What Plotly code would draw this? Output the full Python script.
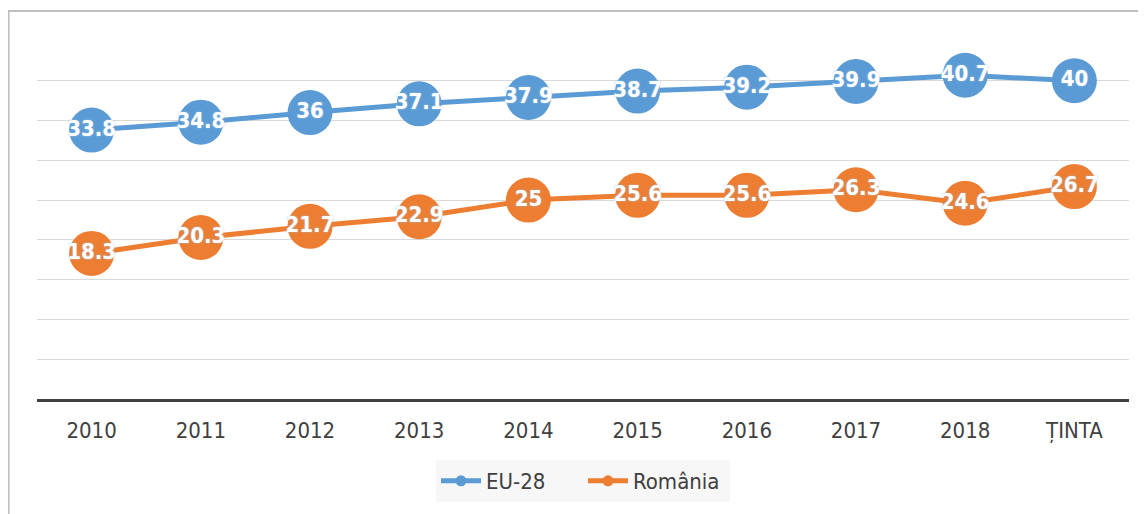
import plotly.graph_objects as go

years = ["2010", "2011", "2012", "2013", "2014", "2015", "2016", "2017", "2018", "ȚINTA"]
eu28 = [33.8, 34.8, 36, 37.1, 37.9, 38.7, 39.2, 39.9, 40.7, 40]
romania = [18.3, 20.3, 21.7, 22.9, 25, 25.6, 25.6, 26.3, 24.6, 26.7]

FONT = "DejaVu Sans Condensed, Open Sans, sans-serif"

fig = go.Figure()

for name, vals, color in [("EU-28", eu28, "#5B9BD5"), ("România", romania, "#ED7D31")]:
    fig.add_trace(go.Scatter(
        x=years,
        y=vals,
        mode="lines+markers+text",
        name=name,
        text=[f"{v:g}" for v in vals],
        textposition="middle center",
        textfont=dict(family=FONT, size=22, color="white", weight="bold",
                      shadow="0px 0px 2px #9dc3e6"),
        line=dict(color=color, width=5),
        marker=dict(color=color, size=45),
        cliponaxis=False,
        showlegend=False,
    ))
    # legend entry only (smaller marker, like the original)
    fig.add_trace(go.Scatter(
        x=[None], y=[None],
        mode="lines+markers",
        name=name,
        line=dict(color=color, width=5),
        marker=dict(color=color, size=11),
    ))

fig.update_layout(
    width=1146,
    height=514,
    margin=dict(l=29, r=25, t=33, b=123),
    paper_bgcolor="white",
    plot_bgcolor="white",
    font=dict(family=FONT, size=22, color="#404040"),
    showlegend=True,
    legend=dict(
        orientation="h",
        x=0.5, xanchor="center",
        y=-0.229, yanchor="middle",
        bgcolor="#f7f7f7",
        font=dict(size=22, color="#404040"),
        entrywidth=92,
        itemwidth=40,
    ),
    xaxis=dict(
        type="category",
        range=[-0.5, 9.5],
        showgrid=False,
        showline=True,
        linecolor="#404040",
        linewidth=3,
        ticks="",
        ticklabelstandoff=10,
    ),
    yaxis=dict(
        range=[0, 45],
        dtick=5,
        showgrid=True,
        gridcolor="#d9d9d9",
        gridwidth=1,
        zeroline=False,
        showticklabels=False,
    ),
    shapes=[dict(
        type="rect", xref="paper", yref="paper",
        x0=-0.026, x1=1.03, y0=-0.4, y1=1.0838,
        line=dict(color="#bfbfbf", width=2),
        layer="below",
    )],
)

fig.write_html("out.html")
